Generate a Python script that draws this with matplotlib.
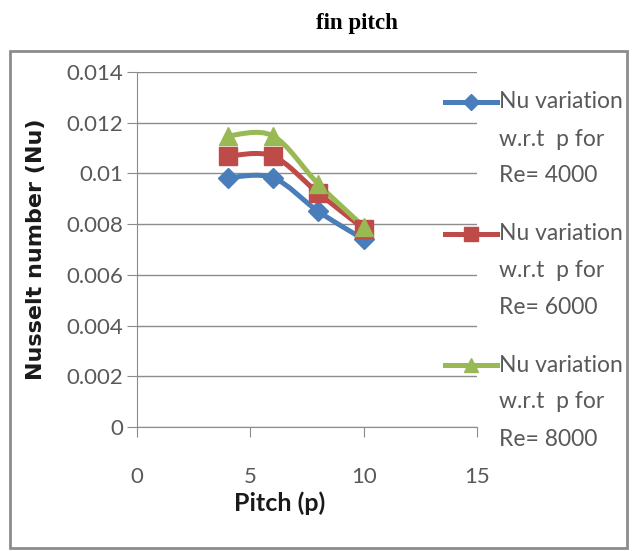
import matplotlib.pyplot as plt
import numpy as np
from matplotlib.path import Path
from matplotlib.patches import PathPatch, Rectangle
from matplotlib.lines import Line2D
from matplotlib.ticker import FuncFormatter

# Data
pitch = [4, 6, 8, 10]
nu_re4000 = [0.00983, 0.00983, 0.00850, 0.00740]
nu_re6000 = [0.01068, 0.01068, 0.00922, 0.00782]
nu_re8000 = [0.01148, 0.01148, 0.00958, 0.00790]
labels = ['Nu variation\nw.r.t  p for\nRe= 4000',
          'Nu variation\nw.r.t  p for\nRe= 6000',
          'Nu variation\nw.r.t  p for\nRe= 8000']
colors = ['#4a7ebb', '#be4b48', '#98b954']
markers = ['D', 's', '^']
msizes = [10, 13, 13]

plt.rcParams['font.family'] = ['Lato', 'DejaVu Sans']
W, H = 634, 551
txt_col = '#595959'


def smooth_path(x, y):
    # excel style smoothed line: cardinal spline through the points as bezier curves
    x = np.asarray(x, float)
    y = np.asarray(y, float)
    verts = [(x[0], y[0])]
    codes = [Path.MOVETO]
    n = len(x)
    for i in range(n - 1):
        x0, y0 = (x[i - 1], y[i - 1]) if i > 0 else (x[i], y[i])
        x3, y3 = (x[i + 2], y[i + 2]) if i + 2 < n else (x[i + 1], y[i + 1])
        t = 1 / 6
        c1 = (x[i] + (x[i + 1] - x0) * t, y[i] + (y[i + 1] - y0) * t)
        c2 = (x[i + 1] - (x3 - x[i]) * t, y[i + 1] - (y3 - y[i]) * t)
        verts += [c1, c2, (x[i + 1], y[i + 1])]
        codes += [Path.CURVE4] * 3
    return Path(verts, codes)


fig = plt.figure(figsize=(W / 100, H / 100), dpi=100)
fig.patches.append(Rectangle((10 / W, 3 / H), 617 / W, 497 / H,
                             transform=fig.transFigure, fill=False,
                             edgecolor='#8c8c8c', linewidth=2))
fig.text(357 / W, 1 - 24 / H, 'fin pitch', ha='center', va='center',
         fontsize=16.5, fontweight='bold', family='Liberation Serif')

ax = fig.add_axes([137 / W, 1 - 427 / H, 340 / W, 355 / H])

series = [nu_re4000, nu_re6000, nu_re8000]
for vals, c, m, ms in zip(series, colors, markers, msizes):
    ax.add_patch(PathPatch(smooth_path(pitch, vals), fill=False, edgecolor=c,
                           linewidth=3.6, zorder=3, capstyle='round'))
    ax.plot(pitch, vals, linestyle='None', color=c, marker=m,
            markersize=ms, zorder=4)

ax.set_xlim(0, 15)
ax.set_ylim(0, 0.014)
ax.set_xticks([0, 5, 10, 15])
ax.set_yticks(np.arange(0, 0.0141, 0.002))
ax.yaxis.set_major_formatter(FuncFormatter(lambda v, p: '%g' % round(v, 4)))
ax.grid(axis='y', color='#8c8c8c', linewidth=1)
ax.set_axisbelow(True)
for s in ['top', 'right']:
    ax.spines[s].set_visible(False)
ax.spines['left'].set_color('#8c8c8c')
ax.spines['bottom'].set_color('#8c8c8c')
ax.tick_params(axis='y', length=7, color='#8c8c8c', labelsize=16,
               labelcolor=txt_col, pad=3)
ax.tick_params(axis='x', length=7, color='#8c8c8c', labelsize=16,
               labelcolor=txt_col, pad=22)

fig.text(280 / W, 1 - 503 / H, 'Pitch (p)', ha='center', va='center',
         fontsize=18, fontweight='bold', color='#1a1a1a')
fig.text(36 / W, 1 - 249 / H, 'Nusselt number (Nu)', ha='center',
         va='center', rotation=90, fontsize=16, fontweight='bold',
         family='DejaVu Sans', color='#1a1a1a')

# legend drawn by hand so the marker sits on the first text line
for i, (lab, c, m, ms) in enumerate(zip(labels, colors, markers, msizes)):
    y0 = 102 + 131.5 * i
    fig.add_artist(Line2D([445 / W, 497 / W], [1 - y0 / H, 1 - y0 / H],
                          transform=fig.transFigure, color=c, linewidth=3.6))
    fig.add_artist(Line2D([471 / W], [1 - y0 / H], transform=fig.transFigure,
                          color=c, marker=m, markersize=ms * 0.8))
    for j, line in enumerate(lab.split('\n')):
        fig.text(499 / W, 1 - (y0 + 37 * j) / H, line, ha='left',
                 va='center', fontsize=16.5, color=txt_col)

plt.savefig('out.png', dpi=100)
